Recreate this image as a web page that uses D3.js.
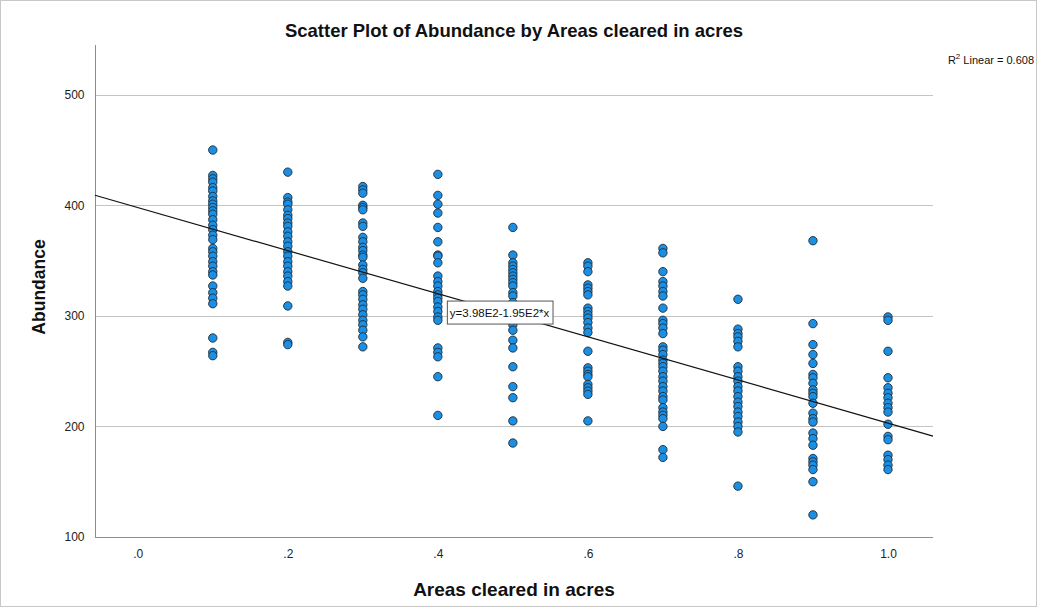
<!DOCTYPE html>
<html>
<head>
<meta charset="utf-8">
<script src="https://cdn.jsdelivr.net/npm/d3@7"></script>
<style>
  body { margin: 0; background: #fff; }
  svg { display: block; font-family: "Liberation Sans", Arial, sans-serif; }
</style>
</head>
<body>
<svg id="chart" width="1037" height="607"></svg>
<script>
// Areas cleared (x levels) and the abundance readings at each level
var areas = [0.1, 0.2, 0.3, 0.4, 0.5, 0.6, 0.7, 0.8, 0.9, 1.0];
var ab_01 = [450, 427, 424, 421, 416, 413, 408, 404, 401, 398, 395, 392, 387, 382, 378, 373, 369, 361, 358, 354, 349, 345, 340, 337, 327, 321, 316, 311, 280, 267, 264];
var ab_02 = [430, 407, 403, 401, 396, 391, 388, 384, 381, 376, 372, 367, 363, 358, 354, 349, 345, 340, 336, 331, 327, 309, 276, 274];
var ab_03 = [417, 414, 411, 400, 398, 396, 384, 381, 371, 367, 362, 359, 355, 353, 346, 342, 339, 334, 322, 319, 315, 310, 306, 301, 296, 292, 287, 281, 272];
var ab_04 = [428, 409, 401, 393, 380, 367, 355, 354, 348, 336, 331, 327, 322, 319, 316, 313, 308, 304, 299, 296, 271, 267, 263, 245, 210];
var ab_05 = [380, 355, 348, 345, 342, 339, 336, 333, 330, 327, 321, 318, 312, 307, 303, 296, 292, 287, 278, 271, 254, 236, 226, 205, 185];
var ab_06 = [348, 345, 340, 328, 325, 322, 319, 307, 304, 301, 298, 294, 289, 285, 268, 253, 250, 247, 245, 238, 235, 232, 229, 205];
var ab_07 = [361, 357, 340, 331, 327, 322, 318, 307, 296, 293, 289, 284, 272, 269, 265, 260, 257, 254, 250, 245, 241, 236, 232, 227, 224, 217, 213, 210, 207, 200, 179, 172];
var ab_08 = [315, 288, 284, 281, 277, 272, 254, 250, 245, 241, 236, 232, 227, 222, 218, 213, 209, 204, 200, 195, 146];
var ab_09 = [368, 293, 274, 265, 257, 247, 244, 239, 233, 230, 227, 221, 212, 207, 204, 194, 189, 183, 171, 168, 165, 161, 150, 120];
var ab_10 = [299, 296, 268, 244, 235, 230, 226, 221, 217, 213, 202, 191, 188, 174, 170, 165, 161];
var abundanceByArea = [ab_01, ab_02, ab_03, ab_04, ab_05, ab_06, ab_07, ab_08, ab_09, ab_10];

var xTicks = [0, 0.2, 0.4, 0.6, 0.8, 1.0];
var yTicks = [100, 200, 300, 400, 500];

// fit line as reported by the chart
var fitIntercept = 398;
var fitSlope = -195;
var fitLabel = "y=3.98E2-1.95E2*x";
var r2Text = "0.608";

var points = [];
areas.forEach(function(a, i){
  abundanceByArea[i].forEach(function(v){ points.push([a, v]); });
});

var W = 1037, H = 607;
var pL = 95, pR = 933, pT = 45, pB = 537; // plot box

var svg = d3.select('#chart');

// outer frame of the picture
svg.append('rect')
  .attr('x', 0.5).attr('y', 0.5)
  .attr('width', W - 1).attr('height', H - 1)
  .attr('fill', '#fff')
  .attr('stroke', '#c8c8c8');

var x = d3.scaleLinear().domain([-0.057, 1.06]).range([pL, pR]);
var y = d3.scaleLinear().domain([100, 545]).range([pB, pT]);

// gridlines
svg.append('g')
  .selectAll('line')
  .data(yTicks.slice(1))
  .enter()
  .append('line')
  .attr('x1', pL).attr('x2', pR)
  .attr('y1', function(d){ return Math.round(y(d)) + 0.5; })
  .attr('y2', function(d){ return Math.round(y(d)) + 0.5; })
  .attr('stroke', '#c4c4c4')
  .attr('stroke-width', 1);

// y axis
var yAxis = svg.append('g')
  .attr('transform', 'translate(' + (pL + 0.5) + ',0)')
  .call(d3.axisLeft(y).tickValues(yTicks).tickSize(0).tickPadding(11).tickFormat(d3.format('d')));
yAxis.select('.domain').attr('stroke', '#8c8c8c').attr('d', 'M0,' + pT + 'V' + (pB + 0.5));
yAxis.selectAll('text').attr('font-size', 12).attr('fill', '#222').attr('font-family', '"Liberation Sans", Arial, sans-serif');

// x axis
var xAxis = svg.append('g')
  .attr('transform', 'translate(0,' + (pB + 0.5) + ')')
  .call(d3.axisBottom(x).tickValues(xTicks).tickSize(0).tickPadding(12)
    .tickFormat(function(d){ return d === 1 ? '1.0' : d3.format('.1f')(d).replace(/^0/, ''); }));
xAxis.select('.domain').attr('stroke', '#8c8c8c').attr('d', 'M' + pL + ',0H' + pR);
xAxis.selectAll('text').attr('font-size', 12).attr('fill', '#222').attr('font-family', '"Liberation Sans", Arial, sans-serif');

// points
svg.append('g')
  .selectAll('circle')
  .data(points)
  .enter()
  .append('circle')
  .attr('cx', function(d){ return x(d[0]); })
  .attr('cy', function(d){ return y(d[1]); })
  .attr('r', 4.2)
  .attr('fill', '#1b8fe3')
  .attr('stroke', '#1f2a33')
  .attr('stroke-width', 0.9);

// fit line across the plot
var xd = x.domain();
svg.append('line')
  .attr('x1', x(xd[0])).attr('y1', y(fitIntercept + fitSlope * xd[0]))
  .attr('x2', x(xd[1])).attr('y2', y(fitIntercept + fitSlope * xd[1]))
  .attr('stroke', '#111')
  .attr('stroke-width', 1.2);

// fit label box
var lab = svg.append('g').attr('transform', 'translate(' + x(0.412) + ',' + y(303) + ')');
var labText = lab.append('text')
  .attr('x', 3).attr('y', 0)
  .attr('dy', '0.35em')
  .attr('font-size', 11.5)
  .attr('fill', '#111')
  .text(fitLabel);
var bb = labText.node().getBBox();
lab.insert('rect', 'text')
  .attr('x', 0.5).attr('y', -11.5)
  .attr('width', bb.width + 6).attr('height', 23)
  .attr('fill', '#fff')
  .attr('stroke', '#555');

// title
svg.append('text')
  .attr('x', (pL + pR) / 2).attr('y', 37)
  .attr('text-anchor', 'middle')
  .attr('font-size', 18.5).attr('font-weight', 'bold')
  .attr('fill', '#111')
  .text('Scatter Plot of Abundance by Areas cleared in acres');

// R squared
var r2 = svg.append('text')
  .attr('x', 1034).attr('y', 64)
  .attr('text-anchor', 'end')
  .attr('font-size', 11)
  .attr('fill', '#111');
r2.append('tspan').text('R');
r2.append('tspan').attr('dy', -5).attr('font-size', 8).text('2');
r2.append('tspan').attr('dy', 5).text(' Linear = ' + r2Text);

// axis titles
svg.append('text')
  .attr('x', (pL + pR) / 2).attr('y', 596)
  .attr('text-anchor', 'middle')
  .attr('font-size', 19).attr('font-weight', 'bold')
  .attr('fill', '#111')
  .text('Areas cleared in acres');

svg.append('text')
  .attr('transform', 'translate(45,' + 287 + ') rotate(-90)')
  .attr('text-anchor', 'middle')
  .attr('font-size', 17.5).attr('font-weight', 'bold')
  .attr('fill', '#111')
  .text('Abundance');
</script>
</body>
</html>
